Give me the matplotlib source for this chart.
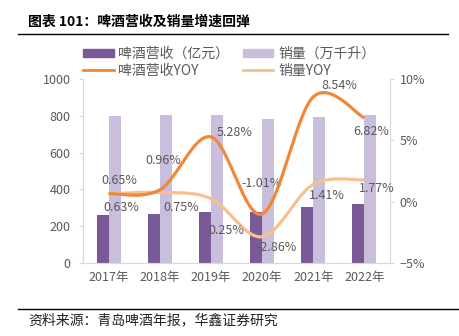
import numpy as np
import matplotlib
matplotlib.use("Agg")
import matplotlib.pyplot as plt
from matplotlib.patches import Patch
from matplotlib.lines import Line2D

plt.rcParams['font.family'] = ['Noto Sans CJK SC', 'DejaVu Sans']

# --- 数据 ---
years = ['2017年', '2018年', '2019年', '2020年', '2021年', '2022年']
revenue = [262.8, 265.8, 279.8, 277.6, 301.7, 321.7]      # 啤酒营收（亿元）
volume = [797, 803, 805, 782, 793, 807]                    # 销量（万千升）
revenue_yoy = [0.65, 0.96, 5.28, -1.01, 8.54, 6.82]        # %
volume_yoy = [0.63, 0.75, 0.25, -2.86, 1.41, 1.77]         # %

# 标签偏移 (像素)
rev_offsets = [(11, 13), (4, 29), (24, 4), (-1, 31), (26, 11), (7, -13)]
vol_offsets = [(13, -14), (21, -15), (15, -32), (14, -11), (14, -11), (12, -9)]

C_DARK = '#7A5A96'
C_LIGHT = '#C9BFDC'
C_ORANGE = '#F0883A'
C_LORANGE = '#F8C08E'
C_TEXT = '#595959'
C_AXIS = '#D9D9D9'


def smooth(x, y, n=30):
    # Excel 风格平滑线 (Catmull-Rom -> Bezier)
    pts = np.column_stack([x, y]).astype(float)
    ext = np.vstack([pts[0], pts, pts[-1]])
    out = []
    t = np.linspace(0, 1, n)[:, None]
    for i in range(1, len(ext) - 2):
        p0, p1, p2, p3 = ext[i - 1], ext[i], ext[i + 1], ext[i + 2]
        c1 = p1 + (p2 - p0) / 6
        c2 = p2 - (p3 - p1) / 6
        seg = ((1 - t) ** 3) * p1 + 3 * ((1 - t) ** 2) * t * c1 + 3 * (1 - t) * t ** 2 * c2 + t ** 3 * p2
        out.append(seg if i == 1 else seg[1:])
    out = np.vstack(out)
    return out[:, 0], out[:, 1]


fig = plt.figure(figsize=(4.6, 3.36), dpi=100)
ax = fig.add_axes([83 / 460, 1 - 263 / 336, 307 / 460, 184 / 336])
ax2 = ax.twinx()

x = np.arange(len(years))
w = 0.235
ax.bar(x - w / 2, revenue, w, color=C_DARK, zorder=2)
ax.bar(x + w / 2, volume, w, color=C_LIGHT, zorder=2)

sx, sy = smooth(x, volume_yoy)
ax2.plot(sx, sy, color=C_LORANGE, lw=2.3, solid_capstyle='butt', zorder=3)
sx, sy = smooth(x, revenue_yoy)
ax2.plot(sx, sy, color=C_ORANGE, lw=2.3, solid_capstyle='butt', zorder=4)

for i in range(len(years)):
    ax2.annotate(f"{revenue_yoy[i]:.2f}%", (x[i], revenue_yoy[i]), xytext=rev_offsets[i],
                 textcoords='offset pixels', ha='center', va='center', fontsize=9, color=C_TEXT)
    ax2.annotate(f"{volume_yoy[i]:.2f}%", (x[i], volume_yoy[i]), xytext=vol_offsets[i],
                 textcoords='offset pixels', ha='center', va='center', fontsize=9, color=C_TEXT)

ax.set_xlim(-0.5, len(years) - 0.5)
ax.set_ylim(0, 1000)
ax.set_yticks(range(0, 1001, 200))
ax2.set_ylim(-5, 10)
ax2.set_yticks([-5, 0, 5, 10])
ax2.set_yticklabels(['−5%', '0%', '5%', '10%'])
ax.set_xticks(x)
ax.set_xticklabels(years)

for a in (ax, ax2):
    for s in a.spines.values():
        s.set_color(C_AXIS)
    a.spines['top'].set_visible(False)
    a.tick_params(colors=C_AXIS, labelcolor=C_TEXT, labelsize=9, length=3)
ax.tick_params(axis='x', length=0, pad=6)
ax.tick_params(axis='y', pad=6)
ax2.tick_params(axis='y', pad=4)

handles = [Patch(color=C_DARK), Line2D([], [], color=C_ORANGE, lw=2),
           Patch(color=C_LIGHT), Line2D([], [], color=C_LORANGE, lw=2)]
labels = ['啤酒营收（亿元）', '啤酒营收YOY', '销量（万千升）', '销量YOY']
fig.legend(handles, labels, ncol=2, loc='upper left', bbox_to_anchor=(83 / 460, 1 - 47 / 336),
           frameon=False, fontsize=10, labelcolor=C_TEXT, handlelength=2.2, handleheight=0.45,
           handletextpad=0.35, columnspacing=0.95, labelspacing=0.2, borderpad=0, borderaxespad=0)

# 标题与来源
fig.text(28 / 460, 1 - 22 / 336, '图表 101：啤酒营收及销量增速回弹', fontsize=10, fontweight='bold',
         va='center', ha='left', color='black')
fig.add_artist(Line2D([18 / 460, 448 / 460], [1 - 34 / 336] * 2, color='black', lw=1))
fig.add_artist(Line2D([18 / 460, 1.0], [1 - 309 / 336] * 2, color='black', lw=1))
fig.text(28 / 460, 1 - 320 / 336, '资料来源：青岛啤酒年报，华鑫证券研究', fontsize=10,
         va='center', ha='left', color='#222222')

fig.savefig('out.png', dpi=100)
